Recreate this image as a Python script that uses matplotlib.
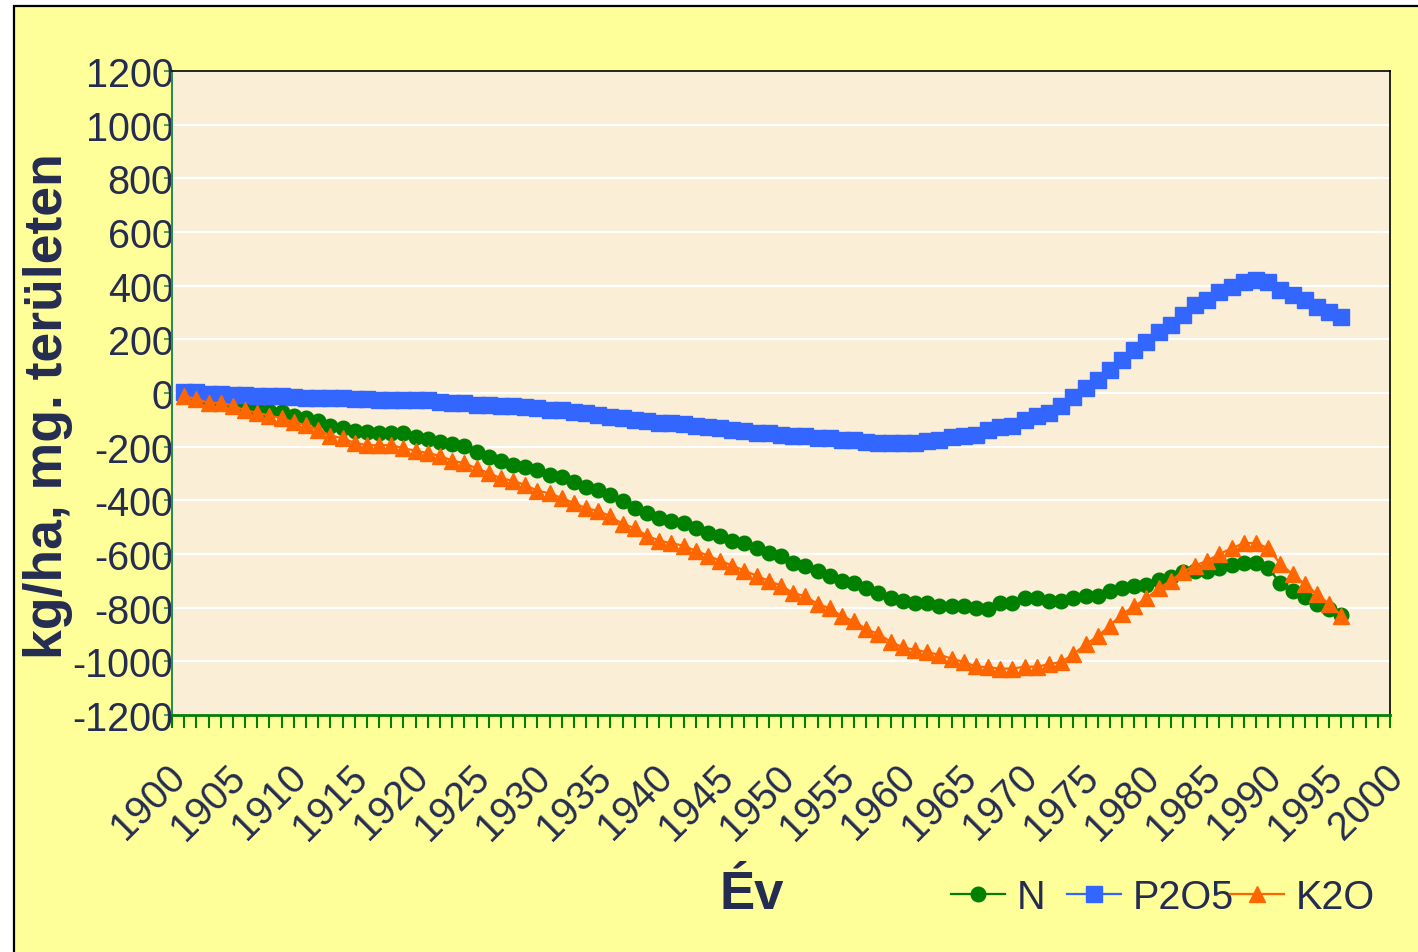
import matplotlib
matplotlib.use('Agg')
import matplotlib.pyplot as plt
from matplotlib.patches import Rectangle
from matplotlib.ticker import MultipleLocator, FixedLocator
from matplotlib.transforms import ScaledTranslation

# ---------------- data ----------------
years = list(range(1901, 1997))
n_vals = [-3, -12, -22, -32, -42, -53, -60, -66, -72, -85,
          -94, -103, -122, -132, -140, -144, -150, -150, -150, -165,
          -171, -181, -190, -199, -221, -240, -252, -268, -277, -287,
          -306, -314, -333, -351, -360, -380, -401, -430, -449, -467,
          -476, -486, -504, -522, -532, -550, -560, -579, -596, -606,
          -634, -643, -662, -681, -700, -709, -728, -747, -765, -774,
          -783, -783, -793, -793, -795, -802, -805, -782, -783, -764,
          -765, -774, -774, -763, -756, -757, -737, -728, -720, -717,
          -696, -685, -667, -662, -665, -653, -641, -634, -634, -653,
          -708, -737, -760, -786, -804, -829]
p_vals = [3, 2, -3, -5, -8, -9, -10, -10, -11, -15,
          -17, -18, -19, -20, -23, -24, -25, -25, -25, -26,
          -27, -35, -36, -37, -45, -46, -47, -50, -52, -57,
          -63, -65, -72, -74, -83, -88, -92, -102, -104, -112,
          -113, -114, -122, -128, -130, -138, -140, -149, -150, -158,
          -160, -160, -167, -169, -176, -177, -184, -185, -185, -185,
          -185, -178, -177, -165, -159, -158, -139, -126, -122, -102,
          -85, -74, -48, -16, 20, 47, 86, 123, 160, 189,
          226, 255, 292, 329, 347, 375, 394, 413, 421, 413,
          384, 365, 347, 319, 301, 282]
k_vals = [-12, -22, -37, -37, -47, -65, -73, -85, -93, -109,
          -119, -137, -159, -168, -186, -194, -195, -194, -206, -215,
          -224, -234, -252, -261, -281, -298, -318, -327, -343, -364,
          -374, -391, -410, -430, -439, -460, -488, -504, -532, -550,
          -560, -569, -588, -606, -625, -643, -662, -681, -700, -718,
          -745, -758, -786, -802, -832, -851, -880, -898, -927, -948,
          -957, -966, -975, -990, -1002, -1019, -1022, -1027, -1027, -1020,
          -1020, -1011, -1002, -974, -937, -907, -867, -824, -795, -765,
          -728, -700, -666, -643, -625, -600, -579, -559, -559, -579,
          -637, -675, -712, -749, -786, -830]
series_names = ['N', 'P2O5', 'K2O']
y_ticks = list(range(-1200, 1201, 200))
x_ticks = list(range(1900, 2001, 5))
x_label = 'Év'
y_label = 'kg/ha, mg. területen'

# ---------------- style ----------------
plt.rcParams['font.family'] = ['Liberation Sans', 'DejaVu Sans']
plt.rcParams['axes.unicode_minus'] = False
TXT = '#242C52'
W, H = 1418, 953
fig = plt.figure(figsize=(W / 100, H / 100), dpi=100, facecolor='white')
fig.patches.append(Rectangle((14 / W, -0.02), 1.2, 1 - 7 / H + 0.02,
                             transform=fig.transFigure, facecolor='#FFFF99',
                             edgecolor='black', linewidth=1.6, zorder=-10))

ax = fig.add_axes([172 / W, 1 - 716 / H, (1390 - 172) / W, (716 - 72) / H])
ax.set_zorder(1)
ax.set_facecolor('#FAEED7')

ax.plot(years, n_vals, color='#008000', marker='o', markersize=10.5,
        linewidth=1.6, label=series_names[0], zorder=3)
ax.plot(years, p_vals, color='#3366FF', marker='s', markersize=12,
        linewidth=1.6, label=series_names[1], zorder=4)
ax.plot(years, k_vals, color='#FF6600', marker='^', markersize=12,
        linewidth=1.6, label=series_names[2], zorder=5)

ax.set_xlim(1900, 2000)
ax.set_ylim(-1200, 1200)
ax.yaxis.set_major_locator(FixedLocator(y_ticks))
ax.xaxis.set_major_locator(FixedLocator(x_ticks))
ax.xaxis.set_minor_locator(MultipleLocator(1))
ax.grid(axis='y', color='white', linewidth=1.6, zorder=1)
ax.set_axisbelow(True)

for s in ('top', 'right'):
    ax.spines[s].set_color('black')
    ax.spines[s].set_linewidth(1.2)
ax.spines['left'].set_color('#2E8B57')
ax.spines['left'].set_linewidth(1.5)
ax.spines['bottom'].set_color('#008000')
ax.spines['bottom'].set_linewidth(2)

ax.tick_params(axis='y', which='major', direction='out', length=6, width=1.2,
               color='#2E8B57', labelsize=28.5, labelcolor=TXT, pad=-7)
ax.tick_params(axis='x', which='both', direction='out', length=9, width=1.5,
               color='#008000')
ax.tick_params(axis='x', which='major', labelsize=28.5, labelcolor=TXT, pad=31)
ax.set_xticklabels([str(v) for v in x_ticks])
for lab in ax.get_xticklabels():
    lab.set_rotation(45)
    lab.set_ha('right')
    lab.set_va('center')
    lab.set_rotation_mode('anchor')
    lab.set_transform(lab.get_transform() + ScaledTranslation(7 / 100, 0, fig.dpi_scale_trans))

fig.text(48 / W, 1 - 406 / H, y_label, rotation=90, ha='center', va='center',
         fontsize=38.5, fontweight='bold', color=TXT)
fig.text(752 / W, 1 - 895 / H, x_label, ha='center', va='center',
         fontsize=38, fontweight='bold', color=TXT)

# legend: one entry per block, placed where the reference puts each entry
handles, labels = ax.get_legend_handles_labels()
legend_x = [951, 1067, 1230]
for h, l, lx in zip(handles, labels, legend_x):
    lg = fig.legend([h], [l], loc='center left', bbox_to_anchor=(lx / W, 1 - 898 / H),
                    frameon=False, fontsize=28.5, labelcolor=TXT,
                    handlelength=1.36, handletextpad=0.3,
                    borderpad=0, borderaxespad=0)

fig.savefig('out.png', dpi=100, facecolor=fig.get_facecolor())
